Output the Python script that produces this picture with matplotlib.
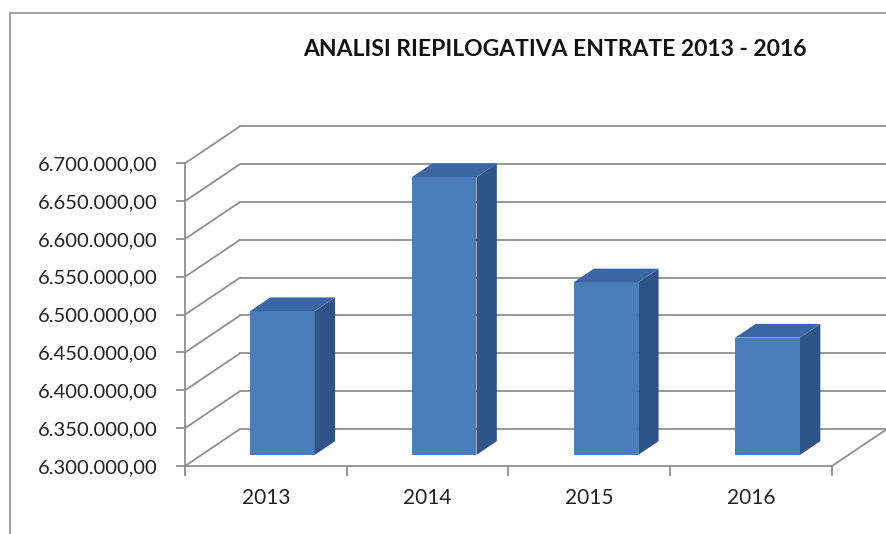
import numpy as np
import matplotlib.pyplot as plt
from matplotlib.patches import Polygon
from matplotlib.lines import Line2D

# dati
anni = ['2013', '2014', '2015', '2016']
entrate = [6490000, 6667000, 6528000, 6455000]
tick_valori = np.arange(6300000, 6700001, 50000)
tick_etichette = ['6.{:03d}.000,00'.format(int(v - 6000000) // 1000) for v in tick_valori]
titolo = 'ANALISI RIEPILOGATIVA ENTRATE 2013 - 2016'

W, H = 887, 534
fig = plt.figure(figsize=(W / 100, H / 100), dpi=100)
fig.patch.set_facecolor('white')

# piano frontale del grafico in pixel (sinistra, destra, alto, basso)
px_l, px_r, px_t, px_b = 185, 832, 163.3, 466
ax = fig.add_axes([px_l / W, 1 - px_b / H, (px_r - px_l) / W, (px_b - px_t) / H])
ax.set_xlim(-0.5, 3.5)
ax.set_ylim(tick_valori[0], tick_valori[-1])
ax.set_facecolor('none')

# profondita' prospettica (55 x 37 px) convertita in unita' dati
px_x = (px_r - px_l) / 4
px_y = (px_b - px_t) / (tick_valori[-1] - tick_valori[0])
DX = 55 / px_x
DY = 37 / px_y

grigio = '#8f8f8f'
base = tick_valori[0]

# parete di fondo e parete laterale
for v in tick_valori:
    ax.add_line(Line2D([-0.5 + DX, 3.5 + DX], [v + DY, v + DY], color=grigio, lw=1.3,
                       clip_on=False, zorder=1))
    ax.add_line(Line2D([-0.5, -0.5 + DX], [v, v + DY], color=grigio, lw=1.3,
                       clip_on=False, zorder=1))
# bordo destro del pavimento
ax.add_line(Line2D([3.5, 3.5 + DX], [base, base + DY], color=grigio, lw=1.3,
                   clip_on=False, zorder=1))

# colonne 3D
f0, d, w = 0.3, 0.37, 0.4
fronte, lato, cima = '#4a7ebb', '#2f5588', '#3a66a2'
x = np.arange(len(anni))
ax.bar(x + f0 * DX, np.array(entrate) - base, bottom=base + f0 * DY, width=w,
       color=fronte, zorder=3, clip_on=False)
for xi, v in zip(x, entrate):
    xl = xi - w / 2 + f0 * DX
    xr = xi + w / 2 + f0 * DX
    y0 = base + f0 * DY
    y1 = v + f0 * DY
    ax.add_patch(Polygon([(xr, y0), (xr + d * DX, y0 + d * DY), (xr + d * DX, y1 + d * DY),
                          (xr, y1)], closed=True, fc=lato, ec='none', zorder=3, clip_on=False))
    ax.add_patch(Polygon([(xl, y1), (xl + d * DX, y1 + d * DY), (xr + d * DX, y1 + d * DY),
                          (xr, y1)], closed=True, fc=cima, ec='none', zorder=3, clip_on=False))

# assi
for s in ['top', 'right']:
    ax.spines[s].set_visible(False)
for s in ['left', 'bottom']:
    ax.spines[s].set_color(grigio)
    ax.spines[s].set_linewidth(1.3)
    ax.spines[s].set_zorder(2)

ax.set_yticks(tick_valori)
ax.set_yticklabels(tick_etichette, fontfamily='Lato', fontsize=14.5, color='#222222')
ax.tick_params(axis='y', direction='out', length=6.5, width=1.3, color=grigio, pad=13)

ax.set_xticks(x)
ax.set_xticklabels(anni, fontfamily='Lato', fontsize=15, color='#222222')
ax.tick_params(axis='x', which='major', length=0, pad=16)
ax.set_xticks(np.arange(-0.5, 3.6, 1), minor=True)
ax.tick_params(axis='x', which='minor', direction='out', length=7, width=1.3, color=grigio)

# titolo
fig.text(555 / W, 1 - 50 / H, titolo, ha='center', va='center', fontfamily='Lato',
         fontweight='bold', fontsize=16.5, color='#111111')

# cornice dell'area grafico
fig.add_artist(Line2D([10 / W, 10 / W], [0, 1 - 13 / H], transform=fig.transFigure,
                      color='#9a9a9a', lw=1.3))
fig.add_artist(Line2D([10 / W, 1], [1 - 13 / H, 1 - 13 / H], transform=fig.transFigure,
                      color='#9a9a9a', lw=1.3))

fig.savefig('out.png', dpi=100)
